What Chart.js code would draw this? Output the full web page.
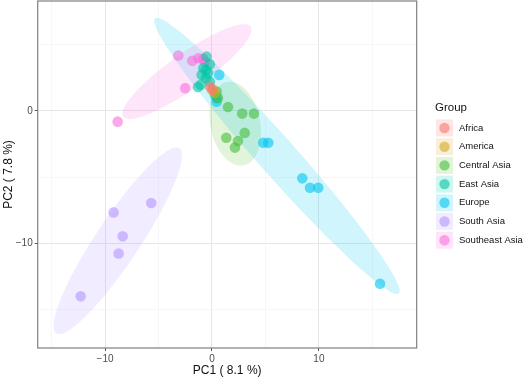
<!DOCTYPE html>
<html>
<head>
<meta charset="utf-8">
<script src="https://cdn.jsdelivr.net/npm/chart.js@4"></script>
<style>
  html, body { margin: 0; padding: 0; background: #fff; }
  #wrap { width: 526px; height: 379px; }
</style>
</head>
<body>
<div id="wrap"><canvas id="pca"></canvas></div>
<script>
const groups = ['Africa', 'America', 'Central Asia', 'East Asia', 'Europe', 'South Asia', 'Southeast Asia'];
const pointColors = [
  'rgba(248,118,109,0.6)', 'rgba(214,168,40,0.6)', 'rgba(70,190,60,0.6)',
  'rgba(0,200,165,0.6)', 'rgba(0,198,240,0.6)', 'rgba(180,150,255,0.6)', 'rgba(250,110,220,0.6)'
];
const fillColors = [
  'rgba(248,118,109,0.18)', 'rgba(214,168,40,0.18)', 'rgba(110,200,70,0.2)',
  'rgba(0,200,165,0.18)', 'rgba(0,200,240,0.18)', 'rgba(180,150,255,0.18)', 'rgba(250,110,220,0.18)'
];

// PC1 / PC2 scores per group
const africa = [[-0.19, 1.84], [0.0, 1.59]];
const america = [[0.12, 1.59], [0.28, 1.36]];
const centralAsia = [[0.44, 1.46], [0.56, 0.98], [1.5, 0.3], [2.83, -0.2], [3.93, -0.2],
  [3.06, -1.66], [1.34, -2.02], [2.43, -2.27], [2.15, -2.77]];
const eastAsia = [[-0.5, 4.1], [-0.19, 3.53], [-0.81, 3.23], [-0.56, 3.1], [-0.96, 2.72],
  [-0.56, 2.49], [-1.06, 1.97], [-1.31, 1.81], [-0.19, 2.21], [0.28, 1.21], [-0.37, 2.87]];
const europe = [[0.68, 2.72], [0.44, 0.96], [0.44, 0.7], [4.8, -2.4], [5.27, -2.4],
  [8.45, -5.09], [9.17, -5.8], [9.94, -5.8], [15.72, -13.05]];
const southAsia = [[-12.28, -14.0], [-9.2, -7.66], [-8.35, -9.47], [-8.73, -10.76], [-5.68, -6.95]];
const southeastAsia = [[-8.82, -0.81], [-3.15, 4.18], [-2.5, 1.72], [-1.84, 3.78],
  [-1.28, 3.98], [-0.81, 3.93], [-0.65, 3.7]];
const groupPoints = [africa, america, centralAsia, eastAsia, europe, southAsia, southeastAsia];

// confidence ellipses: centre and two half-axis vectors, in PC units
const ellipses = [
  { group: 2, center: [2.18, -0.96], major: [-0.78, 3.15], minor: [2.29, 0.37] },
  { group: 4, center: [6.08, -3.4], major: [-11.41, 10.39], minor: [1.33, 0.95] },
  { group: 5, center: [-8.82, -9.81], major: [5.76, 6.99], minor: [1.71, -0.92] },
  { group: 6, center: [-2.34, 2.97], major: [5.96, 3.4], minor: [0.97, -1.11] }
];

const xTicks = [-15, -10, -5, 0, 5, 10, 15];
const yTicks = [-15, -10, -5, 0, 5];

const ellipsePlugin = {
  id: 'ellipses',
  beforeDatasetsDraw(chart) {
    const { ctx, chartArea, scales: { x, y } } = chart;
    ctx.save();
    ctx.beginPath();
    ctx.rect(chartArea.left, chartArea.top, chartArea.width, chartArea.height);
    ctx.clip();
    ellipses.forEach(e => {
      ctx.beginPath();
      for (let i = 0; i <= 90; i++) {
        const t = i / 90 * Math.PI * 2;
        const vx = e.center[0] + e.major[0] * Math.cos(t) + e.minor[0] * Math.sin(t);
        const vy = e.center[1] + e.major[1] * Math.cos(t) + e.minor[1] * Math.sin(t);
        const px = x.getPixelForValue(vx);
        const py = y.getPixelForValue(vy);
        if (i === 0) ctx.moveTo(px, py); else ctx.lineTo(px, py);
      }
      ctx.fillStyle = fillColors[e.group];
      ctx.fill();
    });
    ctx.restore();
  },
  afterDraw(chart) {
    const { ctx, chartArea } = chart;
    ctx.save();
    ctx.strokeStyle = '#7f7f7f';
    ctx.lineWidth = 1.2;
    ctx.strokeRect(chartArea.left, chartArea.top, chartArea.width, chartArea.height);

    // legend
    ctx.fillStyle = '#111';
    ctx.font = '11.5px "Liberation Sans", Arial, sans-serif';
    ctx.textBaseline = 'middle';
    ctx.fillText('Group', 435, 108);
    ctx.font = '9.5px "Liberation Sans", Arial, sans-serif';
    groups.forEach((g, i) => {
      const cy = 128 + i * 18.7;
      ctx.fillStyle = fillColors[i];
      ctx.fillRect(436, cy - 8.5, 17, 17);
      ctx.beginPath();
      ctx.arc(444.5, cy, 5.2, 0, Math.PI * 2);
      ctx.fillStyle = pointColors[i];
      ctx.fill();
      ctx.fillStyle = '#111';
      ctx.fillText(g, 459, cy);
    });
    ctx.restore();
  }
};

const fmt = v => (v < 0 ? '\u2212' + Math.abs(v) : String(v));
const isMajor = v => v % 10 === 0;

new Chart(document.getElementById('pca'), {
  type: 'scatter',
  data: {
    datasets: groups.map((g, i) => ({
      label: g,
      data: groupPoints[i].map(p => ({ x: p[0], y: p[1] })),
      backgroundColor: pointColors[i],
      borderWidth: 0,
      pointRadius: 5.3,
      pointHoverRadius: 5.3
    }))
  },
  options: {
    responsive: true,
    maintainAspectRatio: false,
    animation: false,
    layout: { autoPadding: false, padding: { top: 1, right: 109.3, left: 0, bottom: 0 } },
    plugins: { legend: { display: false }, tooltip: { enabled: false } },
    scales: {
      x: {
        type: 'linear',
        min: -16.3,
        max: 19.15,
        afterBuildTicks: s => { s.ticks = xTicks.map(v => ({ value: v })); },
        afterFit: s => { s.height = 31; s.paddingLeft = 0; s.paddingRight = 0; },
        border: { display: false },
        grid: {
          color: c => isMajor(c.tick.value) ? '#e6e6e6' : '#f3f3f3',
          lineWidth: c => isMajor(c.tick.value) ? 1 : 0.7,
          tickColor: c => isMajor(c.tick.value) ? '#555' : 'rgba(0,0,0,0)',
          tickLength: 3
        },
        ticks: {
          padding: 2,
          maxRotation: 0,
          color: '#4d4d4d',
          font: { family: '"Liberation Sans", Arial, sans-serif', size: 10 },
          callback: v => isMajor(v) ? fmt(v) : ''
        },
        title: {
          display: true,
          text: 'PC1 ( 8.1 %)',
          color: '#111',
          padding: { top: 0, bottom: 1.3 },
          font: { family: '"Liberation Sans", Arial, sans-serif', size: 12 }
        }
      },
      y: {
        type: 'linear',
        min: -17.9,
        max: 8.3,
        afterBuildTicks: s => { s.ticks = yTicks.map(v => ({ value: v })); },
        afterFit: s => { s.width = 37.7; s.paddingTop = 0; s.paddingBottom = 0; },
        border: { display: false },
        grid: {
          color: c => isMajor(c.tick.value) ? '#e6e6e6' : '#f3f3f3',
          lineWidth: c => isMajor(c.tick.value) ? 1 : 0.7,
          tickColor: c => isMajor(c.tick.value) ? '#555' : 'rgba(0,0,0,0)',
          tickLength: 3
        },
        ticks: {
          padding: 2,
          color: '#4d4d4d',
          font: { family: '"Liberation Sans", Arial, sans-serif', size: 10 },
          callback: v => isMajor(v) ? fmt(v) : ''
        },
        title: {
          display: true,
          text: 'PC2 ( 7.8 %)',
          color: '#111',
          padding: { top: 1, bottom: 0 },
          font: { family: '"Liberation Sans", Arial, sans-serif', size: 12 }
        }
      }
    }
  },
  plugins: [ellipsePlugin]
});
</script>
</body>
</html>
